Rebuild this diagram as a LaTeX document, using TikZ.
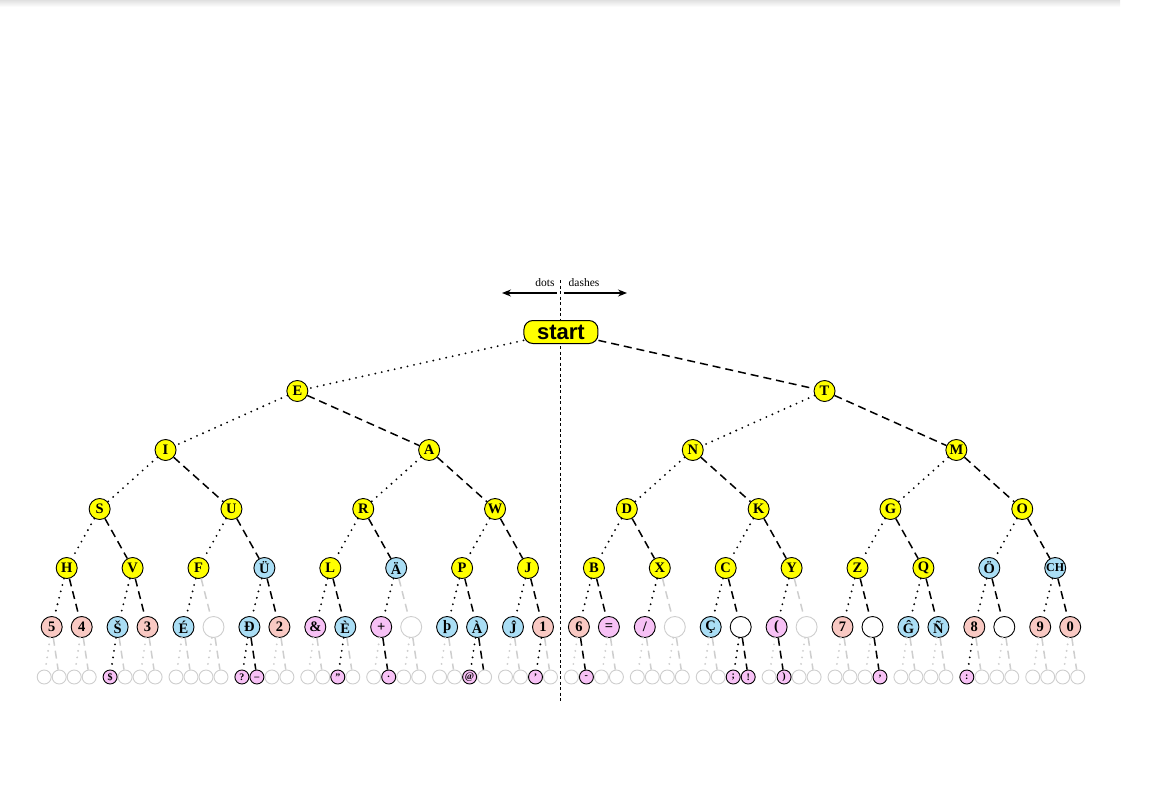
\documentclass[tikz,border=0pt]{standalone}
\usepackage{fontspec}
\setmainfont{Liberation Serif}
\newfontfamily\startfont{Liberation Sans}
\usetikzlibrary{arrows.meta}

\definecolor{nodeyellow}{HTML}{FFFF00}
\definecolor{nodeblue}{RGB}{170,222,245}
\definecolor{nodesalmon}{RGB}{249,201,195}
\definecolor{nodepink}{RGB}{247,193,245}
\definecolor{faint}{RGB}{206,206,206}

\begin{document}
\begin{tikzpicture}[x=1pt,y=-1pt,
  declare function={
    xl(\lv,\kk)=66.7+65.9*((\kk+0.5)*2^(4-\lv)-0.5);
    xf(\kk)=66.7+65.9*floor(\kk/2)+30*mod(\kk,2)-15;
    xs(\kk)=xf(floor(\kk/2))+15*mod(\kk,2)-7.5;
  },
  tnode/.style={circle, draw, line width=0.9pt, minimum size=21pt, inner sep=0pt,
    font=\bfseries\fontsize{14.5}{14.5}\selectfont},
  yel/.style={tnode, fill=nodeyellow},
  blu/.style={tnode, fill=nodeblue},
  sal/.style={tnode, fill=nodesalmon},
  pnk/.style={tnode, fill=nodepink},
  wht/.style={tnode, fill=white},
  gry/.style={tnode, draw=faint, fill=white},
  smallblu/.style={blu, font=\bfseries\fontsize{12}{12}\selectfont},
  leaf/.style={circle, draw=faint, fill=white, line width=0.9pt, minimum size=14pt, inner sep=0pt},
  leafpnk/.style={leaf, draw=black, fill=nodepink, font=\bfseries\fontsize{10}{10}\selectfont},
  edge0/.style={draw=black, line width=2.1pt, line cap=round, dash pattern=on 0pt off 6.6pt},
  edge1/.style={draw=black, line width=1.5pt, dash pattern=on 8pt off 5pt},
  fedge0/.style={edge0, draw=faint},
  fedge1/.style={edge1, draw=faint},
  startbox/.style={draw, line width=1pt, fill=nodeyellow, rounded corners=9pt,
    minimum width=74pt, minimum height=23pt, inner sep=0pt,
    font=\startfont\bfseries\fontsize{22}{22}\selectfont},
  lbl/.style={inner sep=0pt, font=\fontsize{11.5}{11.5}\selectfont},
  arr/.style={line width=1.2pt, -{Stealth[length=9pt,width=7pt]}}
]
\useasboundingbox (0,0) rectangle (1152,790);

% faint shadow along the top edge
\shade[top color=black!12, bottom color=white] (0,0) rectangle (1120,7);

% divider between the dot side and the dash side
\coordinate (divtop) at (560,280);
\coordinate (divbot) at (560,702);
\draw[line width=0.8pt, dash pattern=on 3pt off 2.5pt] (divtop) -- (divbot);

% direction legend
\coordinate (legmidL) at (556.5,293);
\coordinate (legendL) at (502,293);
\coordinate (legmidR) at (563.5,293);
\coordinate (legendR) at (627,293);
\draw[arr] (legmidL) -- (legendL);
\draw[arr] (legmidR) -- (legendR);
\node[lbl] (lbldots) at (545,283) {dots};
\node[lbl] (lbldashes) at (584,283) {dashes};

% root
\node[startbox] (n0-0) at ({xl(0,0)},332) {start};

% level 1
\foreach \idx/\lab in {0/E,1/T} {
  \node[yel] (n1-\idx) at ({xl(1,\idx)},391) {\lab};
  \pgfmathtruncatemacro\side{mod(\idx,2)}
  \draw[edge\side] (n0-0) -- (n1-\idx);
}

% level 2
\foreach \idx/\lab in {0/I,1/A,2/N,3/M} {
  \node[yel] (n2-\idx) at ({xl(2,\idx)},450) {\lab};
  \pgfmathtruncatemacro\side{mod(\idx,2)}
  \pgfmathtruncatemacro\pid{floor(\idx/2)}
  \draw[edge\side] (n1-\pid) -- (n2-\idx);
}

% level 3
\foreach \idx/\lab in {0/S,1/U,2/R,3/W,4/D,5/K,6/G,7/O} {
  \node[yel] (n3-\idx) at ({xl(3,\idx)},509) {\lab};
  \pgfmathtruncatemacro\side{mod(\idx,2)}
  \pgfmathtruncatemacro\pid{floor(\idx/2)}
  \draw[edge\side] (n2-\pid) -- (n3-\idx);
}

% level 4
\foreach \idx/\lab/\sty in {0/H/yel,1/V/yel,2/F/yel,3/Ü/blu,4/L/yel,5/Ä/blu,6/P/yel,7/J/yel,
    8/B/yel,9/X/yel,10/C/yel,11/Y/yel,12/Z/yel,13/Q/yel,14/Ö/blu,15/CH/smallblu} {
  \node[\sty] (n4-\idx) at ({xl(4,\idx)},568) {\lab};
  \pgfmathtruncatemacro\side{mod(\idx,2)}
  \pgfmathtruncatemacro\pid{floor(\idx/2)}
  \draw[edge\side] (n3-\pid) -- (n4-\idx);
}

% level 5
\foreach \idx/\lab/\sty/\edg in {0/5/sal/edge,1/4/sal/edge,2/Š/blu/edge,3/3/sal/edge,
    4/É/blu/edge,5/{}/gry/fedge,6/Ð/blu/edge,7/2/sal/edge,
    8/\&/pnk/edge,9/È/blu/edge,10/+/pnk/edge,11/{}/gry/fedge,
    12/þ/blu/edge,13/À/blu/edge,14/Ĵ/blu/edge,15/1/sal/edge,
    16/6/sal/edge,17/=/pnk/edge,18/{/}/pnk/edge,19/{}/gry/fedge,
    20/Ç/blu/edge,21/{}/wht/edge,22/(/pnk/edge,23/{}/gry/fedge,
    24/7/sal/edge,25/{}/wht/edge,26/Ĝ/blu/edge,27/Ñ/blu/edge,
    28/8/sal/edge,29/{}/wht/edge,30/9/sal/edge,31/0/sal/edge} {
  \node[\sty] (n5-\idx) at ({xf(\idx)},627) {\lab};
  \pgfmathtruncatemacro\side{mod(\idx,2)}
  \pgfmathtruncatemacro\pid{floor(\idx/2)}
  \draw[\edg\side] (n4-\pid) -- (n5-\idx);
}

% level 6: empty slots
\foreach \idx in {0,1,2,3,5,6,7,8,9,10,11,14,15,16,17,19,20,22,23,24,25,28,29,31,
    32,34,35,36,37,38,39,40,41,44,46,47,48,49,50,52,53,54,55,57,58,59,60,61,62,63} {
  \node[leaf] (n6-\idx) at ({xs(\idx)},677) {};
  \pgfmathtruncatemacro\side{mod(\idx,2)}
  \pgfmathtruncatemacro\pid{floor(\idx/2)}
  \draw[fedge\side] (n5-\pid) -- (n6-\idx);
}

% level 6: punctuation
\foreach \idx/\lab/\sty in {4/\$/leafpnk,12/?/leafpnk,13/\_/leafpnk,18/"/leafpnk,
    21/./leafpnk,26/@/leafpnk,27/{}/leaf,30/'/leafpnk,33/-/leafpnk,42/;/leafpnk,
    43/!/leafpnk,45/)/leafpnk,51/{,}/leafpnk,56/:/leafpnk} {
  \node[\sty] (n6-\idx) at ({xs(\idx)},677) {\lab};
  \pgfmathtruncatemacro\side{mod(\idx,2)}
  \pgfmathtruncatemacro\pid{floor(\idx/2)}
  \draw[edge\side] (n5-\pid) -- (n6-\idx);
}
\end{tikzpicture}
\end{document}
